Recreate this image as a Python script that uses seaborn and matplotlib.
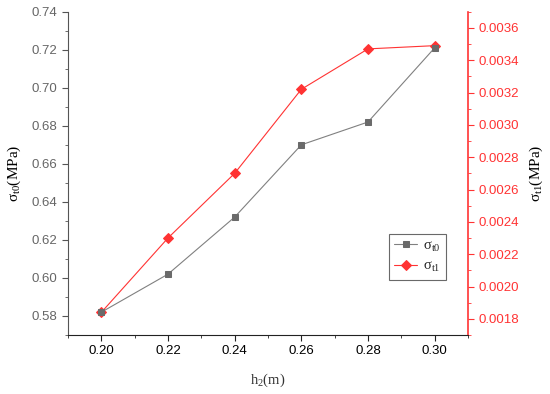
import pandas as pd
import seaborn as sns
import matplotlib.pyplot as plt
from matplotlib.ticker import MultipleLocator, AutoMinorLocator

# data
h2 = [0.20, 0.22, 0.24, 0.26, 0.28, 0.30]
sigma_t0 = [0.582, 0.602, 0.632, 0.670, 0.682, 0.721]
sigma_t1 = [0.00184, 0.00230, 0.00270, 0.00322, 0.00347, 0.00349]

df = pd.DataFrame({"h2": h2, "t0": sigma_t0, "t1": sigma_t1})

sns.set_style("ticks")
plt.rcParams["font.family"] = ["Liberation Sans", "DejaVu Sans"]
plt.rcParams["mathtext.fontset"] = "custom"
plt.rcParams["mathtext.rm"] = "Liberation Serif"
plt.rcParams["mathtext.it"] = "Liberation Serif"

gray = "#808080"
red = "#FF3333"
serif = ["Liberation Serif", "DejaVu Serif"]

fig = plt.figure(figsize=(5.5, 3.94), dpi=100)
ax = fig.add_axes([0.1236, 0.1497, 0.7273, 0.8206])
ax2 = ax.twinx()

sns.lineplot(data=df, x="h2", y="t0", ax=ax, color=gray, linewidth=0.8,
             marker="s", markersize=5, markerfacecolor="#6a6a6a",
             markeredgecolor="#6a6a6a", label=r"σ$_\mathrm{t0}$", legend=False)
sns.lineplot(data=df, x="h2", y="t1", ax=ax2, color=red, linewidth=0.8,
             marker="D", markersize=5.5, markerfacecolor=red,
             markeredgecolor=red, label=r"σ$_\mathrm{t1}$", legend=False)

ax.set_xlim(0.19, 0.31)
ax.set_ylim(0.57, 0.74)
ax2.set_ylim(0.0017, 0.0037)
ax.xaxis.set_major_locator(MultipleLocator(0.02))
ax.xaxis.set_minor_locator(AutoMinorLocator(2))
ax.yaxis.set_major_locator(MultipleLocator(0.02))
ax.yaxis.set_minor_locator(AutoMinorLocator(2))
ax2.yaxis.set_major_locator(MultipleLocator(0.0002))
ax2.yaxis.set_minor_locator(AutoMinorLocator(2))
ax.xaxis.set_major_formatter(plt.FormatStrFormatter("%.2f"))
ax.yaxis.set_major_formatter(plt.FormatStrFormatter("%.2f"))
ax2.yaxis.set_major_formatter(plt.FormatStrFormatter("%.4f"))

for a in (ax, ax2):
    a.spines["top"].set_visible(False)
ax.spines["right"].set_visible(False)
ax.spines["left"].set_color("#555555")
ax.spines["bottom"].set_color("#222222")
ax2.spines["left"].set_visible(False)
ax2.spines["bottom"].set_visible(False)
ax2.spines["right"].set_color(red)
ax2.spines["right"].set_linewidth(1.2)

ax.tick_params(axis="x", which="major", length=4, labelsize=9.5, colors="#222222", labelcolor="black")
ax.tick_params(axis="x", which="minor", length=2.5, colors="#222222")
ax.tick_params(axis="y", which="major", length=4, labelsize=9.5, colors="#555555", labelcolor="#666666")
ax.tick_params(axis="y", which="minor", length=2.5, colors="#555555")
ax2.tick_params(axis="y", which="major", length=4, labelsize=9.5, colors=red, labelcolor=red)
ax2.tick_params(axis="y", which="minor", length=2.5, colors=red)

ax.set_xlabel(r"h$_\mathrm{2}$(m)", fontsize=10.5, family=serif, color="#333333", labelpad=10)
ax.set_ylabel(r"σ$_\mathrm{t0}$(MPa)", fontsize=11, family=serif, color="black", labelpad=6)
ax2.set_ylabel(r"σ$_\mathrm{t1}$(MPa)", fontsize=11, family=serif, color="black", labelpad=6)

h1, l1 = ax.get_legend_handles_labels()
h2_, l2 = ax2.get_legend_handles_labels()
leg = ax.legend(h1 + h2_, l1 + l2, loc="upper left", bbox_to_anchor=(0.8025, 0.312),
                prop={"family": serif, "size": 10.5}, frameon=True, fancybox=False,
                edgecolor="#444444", handlelength=1.6, handletextpad=0.4,
                borderpad=0.35, borderaxespad=0, labelspacing=0.45)
leg.get_frame().set_linewidth(0.8)
ax.set_zorder(ax2.get_zorder() + 1)
ax.patch.set_visible(False)

fig.savefig("out.png", dpi=100)
